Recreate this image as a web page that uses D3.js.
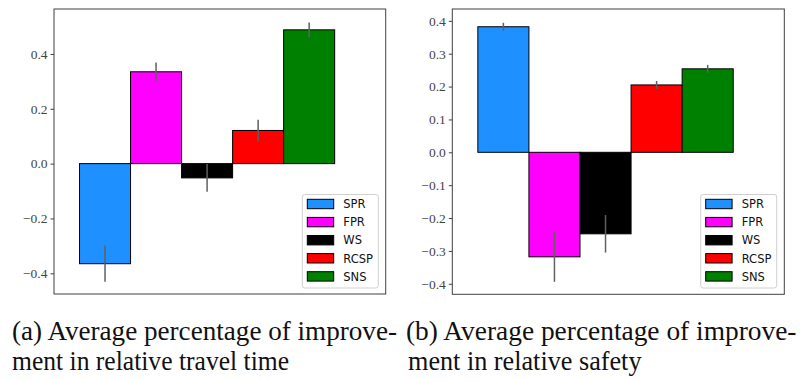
<!DOCTYPE html>
<html><head><meta charset="utf-8">
<script src="https://cdn.jsdelivr.net/npm/d3@7"></script>
<style>
html,body{margin:0;padding:0;background:#fff;}
svg{display:block;}
</style></head>
<body>
<svg id="c" width="802" height="380"></svg>
<script>
const categories = ["SPR", "FPR", "WS", "RCSP", "SNS"];
const palette = ["#1e90ff", "#ff00ff", "#000000", "#ff0000", "#008000"];
const travelMeans = [-0.365, 0.335, -0.052, 0.121, 0.488];
const travelErrors = [0.066, 0.034, 0.051, 0.039, 0.027];
const safetyMeans = [0.382, -0.318, -0.248, 0.205, 0.254];
const safetyErrors = [0.012, 0.076, 0.057, 0.012, 0.012];
const travelTicks = [-0.4, -0.2, 0.0, 0.2, 0.4];
const safetyTicks = [-0.4, -0.3, -0.2, -0.1, 0.0, 0.1, 0.2, 0.3, 0.4];
const captionA = ["(a) Average percentage of improve-", "ment in relative travel time"];
const captionB = ["(b) Average percentage of improve-", "ment in relative safety"];

const svg = d3.select("#c");
const fmt = d3.format(".1f");

function panel(cfg) {
  const g = svg.append("g");
  const x = d3.scaleLinear().domain([-1, 5.5]).range([cfg.x0, cfg.x1]);
  const y = d3.scaleLinear().domain(cfg.yDomain).range([cfg.y1, cfg.y0]);
  const bw = x(1) - x(0);

  g.selectAll("rect.bar").data(cfg.means).join("rect")
    .attr("class", "bar")
    .attr("x", (d, i) => x(i - 0.5))
    .attr("width", bw)
    .attr("y", d => y(Math.max(0, d)))
    .attr("height", d => Math.abs(y(d) - y(0)))
    .attr("fill", (d, i) => palette[i])
    .attr("stroke", "#000")
    .attr("stroke-width", 1);

  g.selectAll("line.err").data(cfg.means).join("line")
    .attr("class", "err")
    .attr("x1", (d, i) => x(i)).attr("x2", (d, i) => x(i))
    .attr("y1", (d, i) => y(d + cfg.errs[i]))
    .attr("y2", (d, i) => y(d - cfg.errs[i]))
    .attr("stroke", "#606060")
    .attr("stroke-width", 1.5);

  g.append("rect")
    .attr("x", cfg.x0).attr("y", cfg.y0)
    .attr("width", cfg.x1 - cfg.x0).attr("height", cfg.y1 - cfg.y0)
    .attr("fill", "none").attr("stroke", "#404040").attr("stroke-width", 1);

  const ax = g.append("g").attr("transform", `translate(${cfg.x0},0)`)
    .call(d3.axisLeft(y).tickValues(cfg.ticks).tickFormat(fmt).tickSize(3.5).tickPadding(3));
  ax.select(".domain").remove();
  ax.selectAll(".tick line").attr("stroke", "#404040");
  ax.selectAll(".tick text")
    .attr("font-family", "'Liberation Serif', 'Times New Roman', serif")
    .attr("font-size", 13.5)
    .attr("fill", "#444");

  const lg = g.append("g");
  lg.append("rect")
    .attr("x", cfg.lx).attr("y", 194.5)
    .attr("width", 76).attr("height", 93.5)
    .attr("rx", 2.5)
    .attr("fill", "#fff").attr("fill-opacity", 0.8)
    .attr("stroke", "#d0d0d0").attr("stroke-width", 1);
  const items = lg.selectAll("g.item").data(categories).join("g")
    .attr("class", "item")
    .attr("transform", (d, i) => `translate(${cfg.lx + 5},${204 + i * 18.1})`);
  items.append("rect")
    .attr("x", 0).attr("y", -4.7).attr("width", 26.4).attr("height", 9.4)
    .attr("fill", (d, i) => palette[i]).attr("stroke", "#000").attr("stroke-width", 1);
  items.append("text")
    .attr("x", 36).attr("y", 4.2)
    .attr("font-family", "'DejaVu Sans', sans-serif")
    .attr("font-size", 11.5)
    .attr("fill", "#111")
    .text(d => d);

  const cap = g.append("g")
    .attr("font-family", "'Liberation Serif', 'Times New Roman', serif")
    .attr("font-size", 25)
    .attr("fill", "#111");
  cap.append("text")
    .attr("transform", `translate(${cfg.cx},340) scale(1,1.1)`)
    .attr("textLength", cfg.cw).attr("lengthAdjust", "spacingAndGlyphs")
    .text(cfg.caption[0]);
  cap.append("text")
    .attr("transform", `translate(${cfg.cx2},370) scale(1,1.1)`)
    .attr("textLength", cfg.cw2).attr("lengthAdjust", "spacingAndGlyphs")
    .text(cfg.caption[1]);
}

panel({x0: 54, x1: 385.7, y0: 9, y1: 294, yDomain: [-0.4755, 0.564],
  means: travelMeans, errs: travelErrors, ticks: travelTicks,
  lx: 302.3, caption: captionA, cx: 12, cw: 385, cx2: 12, cw2: 277});
panel({x0: 452.3, x1: 784.3, y0: 9, y1: 294.3, yDomain: [-0.432, 0.436],
  means: safetyMeans, errs: safetyErrors, ticks: safetyTicks,
  lx: 700.7, caption: captionB, cx: 406, cw: 390.5, cx2: 408, cw2: 233.5});
</script>
</body></html>
